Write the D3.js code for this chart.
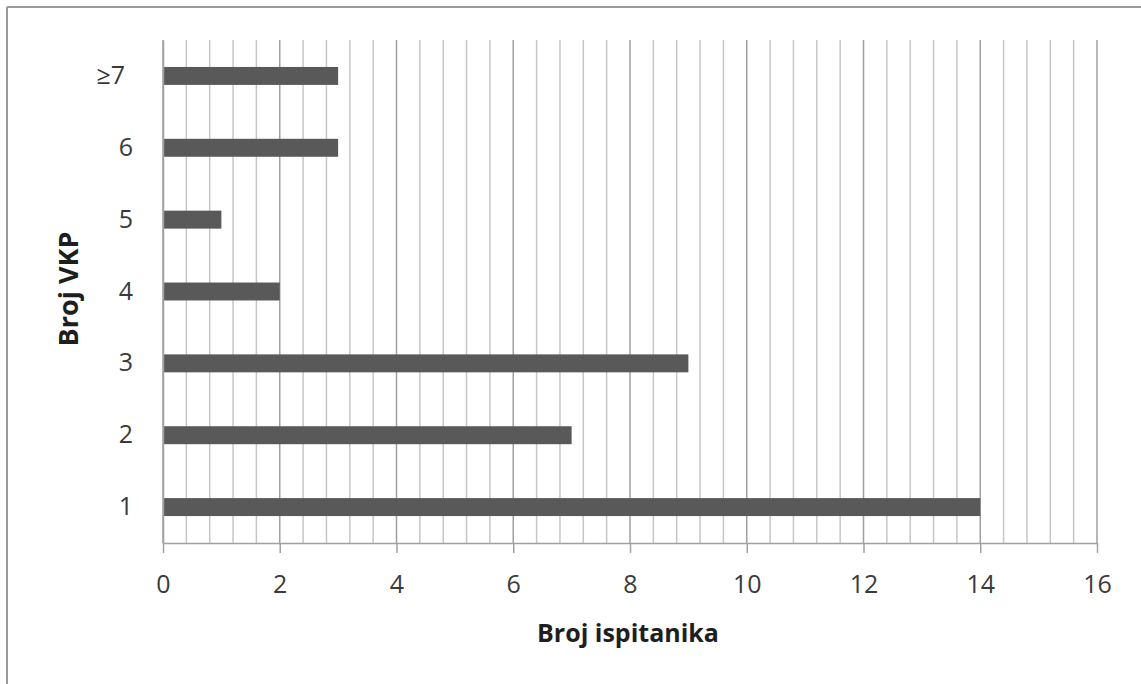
<!DOCTYPE html>
<html>
<head>
<meta charset="utf-8">
<script src="https://cdn.jsdelivr.net/npm/d3@7"></script>
<style>
  body { margin: 0; background: #fff; }
  svg, svg text { font-family: "Open Sans", "DejaVu Sans", sans-serif; }
</style>
</head>
<body>
<div id="chart"></div>
<script>
// data
const categories = ["1", "2", "3", "4", "5", "6", "≥7"];
const counts = [14, 7, 9, 2, 1, 3, 3];
const xTicks = [0, 2, 4, 6, 8, 10, 12, 14, 16];
const minorStep = 0.4;

const W = 1141, H = 684;
const margin = {top: 40, right: 44, bottom: 141, left: 163};
const width = W - margin.left - margin.right,
      height = H - margin.top - margin.bottom;

const svg = d3.select("#chart").append("svg")
    .attr("width", W).attr("height", H);

// frame lines (top and left edge of the pasted figure)
svg.append("line").attr("x1", 7).attr("x2", W).attr("y1", 7).attr("y2", 7)
  .attr("stroke", "#9a9a9a").attr("stroke-width", 2);
svg.append("line").attr("x1", 7).attr("x2", 7).attr("y1", 7).attr("y2", H)
  .attr("stroke", "#9a9a9a").attr("stroke-width", 2);

const g = svg.append("g").attr("transform", `translate(${margin.left},${margin.top})`);

const x = d3.scaleLinear().domain([0, 16]).range([0, width]);
const y = d3.scaleBand().domain(categories).range([height, 0]).paddingInner(0.75).paddingOuter(0.375);

// minor grid
const minor = d3.range(0, 16 + 1e-9, minorStep).map(v => +v.toFixed(2));
g.append("g").selectAll("line")
  .data(minor)
  .join("line")
    .attr("x1", d => x(d)).attr("x2", d => x(d))
    .attr("y1", 0).attr("y2", height)
    .attr("stroke", d => Math.abs(d / 2 - Math.round(d / 2)) < 1e-6 ? "#a0a0a0" : "#c6c6c6")
    .attr("stroke-width", 1.5);

// bars
g.selectAll("rect.bar")
  .data(counts)
  .join("rect")
    .attr("class", "bar")
    .attr("x", x(0))
    .attr("y", (d, i) => y(categories[i]))
    .attr("width", d => x(d) - x(0))
    .attr("height", y.bandwidth())
    .attr("fill", "#595959");

// x axis
const xAxis = g.append("g")
  .attr("transform", `translate(0,${height})`)
  .call(d3.axisBottom(x).tickValues(xTicks).tickSize(10).tickPadding(22).tickSizeOuter(0))
  .attr("font-family", null);
xAxis.select(".domain").attr("stroke", "#a0a0a0").attr("stroke-width", 1.5);
xAxis.selectAll(".tick line").attr("stroke", "#a0a0a0").attr("stroke-width", 1.5);
xAxis.selectAll("text").attr("font-size", 25).attr("fill", "#3a3a3a");

// y axis labels
const yAxis = g.append("g")
  .call(d3.axisLeft(y).tickSize(0).tickPadding(30))
  .attr("font-family", null);
yAxis.select(".domain").attr("stroke", "#a0a0a0").attr("stroke-width", 1.5);
yAxis.selectAll("text").attr("font-size", 25).attr("fill", "#3a3a3a")
  .attr("dx", d => d === "≥7" ? -8 : 0);

// axis titles
svg.append("text")
  .attr("x", 628).attr("y", 642)
  .attr("text-anchor", "middle")
  .attr("font-size", 25).attr("font-weight", "bold").attr("fill", "#1e1e1e")
  .text("Broj ispitanika");
svg.append("text")
  .attr("transform", "translate(78,289) rotate(-90)")
  .attr("text-anchor", "middle")
  .attr("font-size", 27).attr("font-weight", "bold").attr("fill", "#1e1e1e")
  .text("Broj VKP");
</script>
</body>
</html>
